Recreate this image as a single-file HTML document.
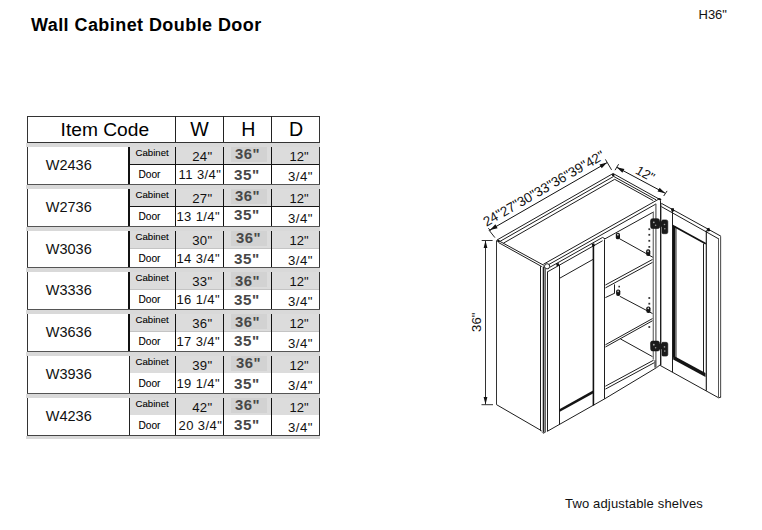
<!DOCTYPE html>
<html><head><meta charset="utf-8"><style>
html,body{margin:0;padding:0;background:#fff;}
body{width:762px;height:530px;position:relative;overflow:hidden;font-family:"Liberation Sans", sans-serif;}
.t{position:absolute;line-height:1;white-space:nowrap;}
.r{position:absolute;}
svg{position:absolute;left:0;top:0;}
</style></head><body>
<div class="t" style="left:31.00px;top:15.76px;font-size:18px;font-weight:700;color:#000;letter-spacing:0.43px">Wall Cabinet Double Door</div><div class="t" style="left:698.50px;top:7.80px;font-size:13px;font-weight:400;color:#111;">H36&quot;</div><div class="t" style="left:565.00px;top:496.70px;font-size:13px;font-weight:400;color:#111;letter-spacing:0.16px">Two adjustable shelves</div><div class="r" style="left:27px;top:116px;width:293px;height:1px;background:#333"></div><div class="r" style="left:27px;top:116px;width:1px;height:27px;background:#333"></div><div class="r" style="left:319px;top:116px;width:1px;height:27px;background:#333"></div><div class="r" style="left:175px;top:116px;width:1px;height:27px;background:#222"></div><div class="r" style="left:223px;top:116px;width:1px;height:27px;background:#222"></div><div class="r" style="left:271px;top:116px;width:1px;height:27px;background:#222"></div><div class="t" style="left:60.60px;top:119.55px;font-size:19.2px;font-weight:400;color:#000;">Item Code</div><div class="t" style="left:190.20px;top:119.91px;font-size:19.6px;font-weight:400;color:#000;">W</div><div class="t" style="left:241.20px;top:119.91px;font-size:19.6px;font-weight:400;color:#000;">H</div><div class="t" style="left:289.00px;top:119.91px;font-size:19.6px;font-weight:400;color:#000;">D</div><div class="r" style="left:27px;top:142px;width:293px;height:1px;background:#333"></div><div class="r" style="left:26px;top:143px;width:294px;height:4px;background:#d9d9d9"></div><div class="r" style="left:130px;top:147px;width:190px;height:17px;background:#dcdcdc"></div><div class="r" style="left:231px;top:147px;width:36px;height:15px;background:#d2d2d2"></div><div class="r" style="left:129px;top:164px;width:191px;height:1px;background:#151515"></div><div class="r" style="left:27px;top:147px;width:1px;height:37px;background:#333"></div><div class="r" style="left:128px;top:147px;width:2px;height:37px;background:#111"></div><div class="r" style="left:175px;top:147px;width:1px;height:37px;background:#111"></div><div class="r" style="left:223px;top:147px;width:1px;height:37px;background:#111"></div><div class="r" style="left:271px;top:147px;width:1px;height:37px;background:#111"></div><div class="r" style="left:319px;top:147px;width:1px;height:37px;background:#333"></div><div class="t" style="left:45.80px;top:157.63px;font-size:14.5px;font-weight:400;color:#111;">W2436</div><div class="t" style="left:135.60px;top:147.77px;font-size:9.6px;font-weight:400;color:#000;-webkit-text-stroke:0.08px #000">Cabinet</div><div class="t" style="left:138.40px;top:170.27px;font-size:10.2px;font-weight:400;color:#000;-webkit-text-stroke:0.08px #000">Door</div><div class="t" style="left:192.20px;top:149.83px;font-size:13.2px;font-weight:400;color:#111;letter-spacing:0.3px">24&quot;</div><div class="t" style="left:178.60px;top:167.80px;font-size:13px;font-weight:400;color:#111;letter-spacing:0.4px">11 3/4&quot;</div><div class="t" style="left:235.00px;top:147.31px;font-size:14.4px;font-weight:700;color:#484848;letter-spacing:0.5px;transform:scaleX(1.03);transform-origin:0 0">36&quot;</div><div class="t" style="left:234.30px;top:167.57px;font-size:14.8px;font-weight:700;color:#484848;letter-spacing:0.5px;transform:scaleX(1.03);transform-origin:0 0">35&quot;</div><div class="t" style="left:289.60px;top:149.80px;font-size:13px;font-weight:400;color:#111;">12&quot;</div><div class="t" style="left:287.90px;top:169.53px;font-size:13.2px;font-weight:400;color:#111;letter-spacing:0.5px">3/4&quot;</div><div class="r" style="left:27px;top:184px;width:293px;height:1px;background:#555"></div><div class="r" style="left:26px;top:185px;width:294px;height:4px;background:#d9d9d9"></div><div class="r" style="left:130px;top:189px;width:190px;height:17px;background:#dcdcdc"></div><div class="r" style="left:231px;top:189px;width:36px;height:15px;background:#d2d2d2"></div><div class="r" style="left:129px;top:206px;width:191px;height:1px;background:#151515"></div><div class="r" style="left:27px;top:189px;width:1px;height:37px;background:#333"></div><div class="r" style="left:128px;top:189px;width:2px;height:37px;background:#111"></div><div class="r" style="left:175px;top:189px;width:1px;height:37px;background:#111"></div><div class="r" style="left:223px;top:189px;width:1px;height:37px;background:#111"></div><div class="r" style="left:271px;top:189px;width:1px;height:37px;background:#111"></div><div class="r" style="left:319px;top:189px;width:1px;height:37px;background:#333"></div><div class="t" style="left:45.80px;top:199.63px;font-size:14.5px;font-weight:400;color:#111;">W2736</div><div class="t" style="left:135.60px;top:189.77px;font-size:9.6px;font-weight:400;color:#000;-webkit-text-stroke:0.08px #000">Cabinet</div><div class="t" style="left:138.40px;top:212.27px;font-size:10.2px;font-weight:400;color:#000;-webkit-text-stroke:0.08px #000">Door</div><div class="t" style="left:192.20px;top:191.83px;font-size:13.2px;font-weight:400;color:#111;letter-spacing:0.3px">27&quot;</div><div class="t" style="left:176.40px;top:209.80px;font-size:13px;font-weight:400;color:#111;letter-spacing:0.4px">13 1/4&quot;</div><div class="t" style="left:235.00px;top:188.81px;font-size:14.4px;font-weight:700;color:#484848;letter-spacing:0.5px;transform:scaleX(1.03);transform-origin:0 0">36&quot;</div><div class="t" style="left:234.30px;top:207.67px;font-size:14.8px;font-weight:700;color:#484848;letter-spacing:0.5px;transform:scaleX(1.03);transform-origin:0 0">35&quot;</div><div class="t" style="left:289.60px;top:191.80px;font-size:13px;font-weight:400;color:#111;">12&quot;</div><div class="t" style="left:287.90px;top:211.53px;font-size:13.2px;font-weight:400;color:#111;letter-spacing:0.5px">3/4&quot;</div><div class="r" style="left:27px;top:226px;width:293px;height:1px;background:#555"></div><div class="r" style="left:26px;top:227px;width:294px;height:4px;background:#d9d9d9"></div><div class="r" style="left:130px;top:231px;width:190px;height:17px;background:#dcdcdc"></div><div class="r" style="left:231px;top:231px;width:36px;height:15px;background:#d2d2d2"></div><div class="r" style="left:130px;top:248px;width:190px;height:1px;background:#c4c4c4"></div><div class="r" style="left:27px;top:231px;width:1px;height:36px;background:#333"></div><div class="r" style="left:128px;top:231px;width:2px;height:36px;background:#111"></div><div class="r" style="left:175px;top:231px;width:1px;height:36px;background:#111"></div><div class="r" style="left:223px;top:231px;width:1px;height:36px;background:#111"></div><div class="r" style="left:271px;top:231px;width:1px;height:36px;background:#111"></div><div class="r" style="left:319px;top:231px;width:1px;height:36px;background:#333"></div><div class="t" style="left:45.80px;top:241.63px;font-size:14.5px;font-weight:400;color:#111;">W3036</div><div class="t" style="left:135.60px;top:231.77px;font-size:9.6px;font-weight:400;color:#000;-webkit-text-stroke:0.08px #000">Cabinet</div><div class="t" style="left:138.40px;top:254.27px;font-size:10.2px;font-weight:400;color:#000;-webkit-text-stroke:0.08px #000">Door</div><div class="t" style="left:192.20px;top:233.83px;font-size:13.2px;font-weight:400;color:#111;letter-spacing:0.3px">30&quot;</div><div class="t" style="left:176.40px;top:251.80px;font-size:13px;font-weight:400;color:#111;letter-spacing:0.4px">14 3/4&quot;</div><div class="t" style="left:236.10px;top:230.81px;font-size:14.4px;font-weight:700;color:#484848;letter-spacing:0.5px;transform:scaleX(1.03);transform-origin:0 0">36&quot;</div><div class="t" style="left:234.30px;top:251.87px;font-size:14.8px;font-weight:700;color:#484848;letter-spacing:0.5px;transform:scaleX(1.03);transform-origin:0 0">35&quot;</div><div class="t" style="left:289.60px;top:233.80px;font-size:13px;font-weight:400;color:#111;">12&quot;</div><div class="t" style="left:287.90px;top:253.53px;font-size:13.2px;font-weight:400;color:#111;letter-spacing:0.5px">3/4&quot;</div><div class="r" style="left:27px;top:267px;width:293px;height:1px;background:#555"></div><div class="r" style="left:26px;top:268px;width:294px;height:4px;background:#d9d9d9"></div><div class="r" style="left:130px;top:272px;width:190px;height:17px;background:#dcdcdc"></div><div class="r" style="left:231px;top:272px;width:36px;height:15px;background:#d2d2d2"></div><div class="r" style="left:130px;top:289px;width:190px;height:1px;background:#c4c4c4"></div><div class="r" style="left:27px;top:272px;width:1px;height:37px;background:#333"></div><div class="r" style="left:128px;top:272px;width:2px;height:37px;background:#111"></div><div class="r" style="left:175px;top:272px;width:1px;height:37px;background:#111"></div><div class="r" style="left:223px;top:272px;width:1px;height:37px;background:#111"></div><div class="r" style="left:271px;top:272px;width:1px;height:37px;background:#111"></div><div class="r" style="left:319px;top:272px;width:1px;height:37px;background:#333"></div><div class="t" style="left:45.80px;top:282.63px;font-size:14.5px;font-weight:400;color:#111;">W3336</div><div class="t" style="left:135.60px;top:272.77px;font-size:9.6px;font-weight:400;color:#000;-webkit-text-stroke:0.08px #000">Cabinet</div><div class="t" style="left:138.40px;top:295.27px;font-size:10.2px;font-weight:400;color:#000;-webkit-text-stroke:0.08px #000">Door</div><div class="t" style="left:192.20px;top:274.83px;font-size:13.2px;font-weight:400;color:#111;letter-spacing:0.3px">33&quot;</div><div class="t" style="left:176.40px;top:292.80px;font-size:13px;font-weight:400;color:#111;letter-spacing:0.4px">16 1/4&quot;</div><div class="t" style="left:235.00px;top:273.61px;font-size:14.4px;font-weight:700;color:#484848;letter-spacing:0.5px;transform:scaleX(1.03);transform-origin:0 0">36&quot;</div><div class="t" style="left:234.30px;top:292.87px;font-size:14.8px;font-weight:700;color:#484848;letter-spacing:0.5px;transform:scaleX(1.03);transform-origin:0 0">35&quot;</div><div class="t" style="left:289.60px;top:274.80px;font-size:13px;font-weight:400;color:#111;">12&quot;</div><div class="t" style="left:287.90px;top:294.53px;font-size:13.2px;font-weight:400;color:#111;letter-spacing:0.5px">3/4&quot;</div><div class="r" style="left:27px;top:309px;width:293px;height:1px;background:#555"></div><div class="r" style="left:26px;top:310px;width:294px;height:4px;background:#d9d9d9"></div><div class="r" style="left:130px;top:314px;width:190px;height:17px;background:#dcdcdc"></div><div class="r" style="left:231px;top:314px;width:36px;height:15px;background:#d2d2d2"></div><div class="r" style="left:130px;top:331px;width:190px;height:1px;background:#c4c4c4"></div><div class="r" style="left:27px;top:314px;width:1px;height:37px;background:#333"></div><div class="r" style="left:128px;top:314px;width:2px;height:37px;background:#111"></div><div class="r" style="left:175px;top:314px;width:1px;height:37px;background:#111"></div><div class="r" style="left:223px;top:314px;width:1px;height:37px;background:#111"></div><div class="r" style="left:271px;top:314px;width:1px;height:37px;background:#111"></div><div class="r" style="left:319px;top:314px;width:1px;height:37px;background:#333"></div><div class="t" style="left:45.80px;top:324.63px;font-size:14.5px;font-weight:400;color:#111;">W3636</div><div class="t" style="left:135.60px;top:314.77px;font-size:9.6px;font-weight:400;color:#000;-webkit-text-stroke:0.08px #000">Cabinet</div><div class="t" style="left:138.40px;top:337.27px;font-size:10.2px;font-weight:400;color:#000;-webkit-text-stroke:0.08px #000">Door</div><div class="t" style="left:192.20px;top:316.83px;font-size:13.2px;font-weight:400;color:#111;letter-spacing:0.3px">36&quot;</div><div class="t" style="left:176.40px;top:334.80px;font-size:13px;font-weight:400;color:#111;letter-spacing:0.4px">17 3/4&quot;</div><div class="t" style="left:235.00px;top:314.51px;font-size:14.4px;font-weight:700;color:#484848;letter-spacing:0.5px;transform:scaleX(1.03);transform-origin:0 0">36&quot;</div><div class="t" style="left:234.30px;top:334.17px;font-size:14.8px;font-weight:700;color:#484848;letter-spacing:0.5px;transform:scaleX(1.03);transform-origin:0 0">35&quot;</div><div class="t" style="left:289.60px;top:316.80px;font-size:13px;font-weight:400;color:#111;">12&quot;</div><div class="t" style="left:287.90px;top:336.53px;font-size:13.2px;font-weight:400;color:#111;letter-spacing:0.5px">3/4&quot;</div><div class="r" style="left:27px;top:351px;width:293px;height:1px;background:#555"></div><div class="r" style="left:26px;top:352px;width:294px;height:4px;background:#d9d9d9"></div><div class="r" style="left:130px;top:356px;width:190px;height:17px;background:#dcdcdc"></div><div class="r" style="left:231px;top:356px;width:36px;height:15px;background:#d2d2d2"></div><div class="r" style="left:27px;top:356px;width:1px;height:37px;background:#333"></div><div class="r" style="left:129px;top:356px;width:1px;height:37px;background:#222"></div><div class="r" style="left:175px;top:356px;width:1px;height:37px;background:#111"></div><div class="r" style="left:223px;top:356px;width:1px;height:37px;background:#111"></div><div class="r" style="left:271px;top:356px;width:1px;height:37px;background:#111"></div><div class="r" style="left:319px;top:356px;width:1px;height:37px;background:#333"></div><div class="t" style="left:45.80px;top:366.63px;font-size:14.5px;font-weight:400;color:#111;">W3936</div><div class="t" style="left:135.60px;top:356.77px;font-size:9.6px;font-weight:400;color:#000;-webkit-text-stroke:0.08px #000">Cabinet</div><div class="t" style="left:138.40px;top:379.27px;font-size:10.2px;font-weight:400;color:#000;-webkit-text-stroke:0.08px #000">Door</div><div class="t" style="left:192.20px;top:358.83px;font-size:13.2px;font-weight:400;color:#111;letter-spacing:0.3px">39&quot;</div><div class="t" style="left:176.40px;top:376.80px;font-size:13px;font-weight:400;color:#111;letter-spacing:0.4px">19 1/4&quot;</div><div class="t" style="left:236.10px;top:355.81px;font-size:14.4px;font-weight:700;color:#484848;letter-spacing:0.5px;transform:scaleX(1.03);transform-origin:0 0">36&quot;</div><div class="t" style="left:234.30px;top:376.87px;font-size:14.8px;font-weight:700;color:#484848;letter-spacing:0.5px;transform:scaleX(1.03);transform-origin:0 0">35&quot;</div><div class="t" style="left:289.60px;top:358.80px;font-size:13px;font-weight:400;color:#111;">12&quot;</div><div class="t" style="left:287.90px;top:378.53px;font-size:13.2px;font-weight:400;color:#111;letter-spacing:0.5px">3/4&quot;</div><div class="r" style="left:27px;top:393px;width:293px;height:1px;background:#555"></div><div class="r" style="left:26px;top:394px;width:294px;height:4px;background:#d9d9d9"></div><div class="r" style="left:130px;top:398px;width:190px;height:17px;background:#dcdcdc"></div><div class="r" style="left:231px;top:398px;width:36px;height:15px;background:#d2d2d2"></div><div class="r" style="left:27px;top:398px;width:1px;height:37px;background:#333"></div><div class="r" style="left:129px;top:398px;width:1px;height:37px;background:#222"></div><div class="r" style="left:175px;top:398px;width:1px;height:37px;background:#111"></div><div class="r" style="left:223px;top:398px;width:1px;height:37px;background:#111"></div><div class="r" style="left:271px;top:398px;width:1px;height:37px;background:#111"></div><div class="r" style="left:319px;top:398px;width:1px;height:37px;background:#333"></div><div class="t" style="left:45.80px;top:408.63px;font-size:14.5px;font-weight:400;color:#111;">W4236</div><div class="t" style="left:135.60px;top:398.77px;font-size:9.6px;font-weight:400;color:#000;-webkit-text-stroke:0.08px #000">Cabinet</div><div class="t" style="left:138.40px;top:421.27px;font-size:10.2px;font-weight:400;color:#000;-webkit-text-stroke:0.08px #000">Door</div><div class="t" style="left:192.20px;top:400.83px;font-size:13.2px;font-weight:400;color:#111;letter-spacing:0.3px">42&quot;</div><div class="t" style="left:178.60px;top:418.80px;font-size:13px;font-weight:400;color:#111;letter-spacing:0.4px">20 3/4&quot;</div><div class="t" style="left:235.00px;top:397.81px;font-size:14.4px;font-weight:700;color:#484848;letter-spacing:0.5px;transform:scaleX(1.03);transform-origin:0 0">36&quot;</div><div class="t" style="left:234.30px;top:418.17px;font-size:14.8px;font-weight:700;color:#484848;letter-spacing:0.5px;transform:scaleX(1.03);transform-origin:0 0">35&quot;</div><div class="t" style="left:289.60px;top:400.80px;font-size:13px;font-weight:400;color:#111;">12&quot;</div><div class="t" style="left:287.90px;top:420.53px;font-size:13.2px;font-weight:400;color:#111;letter-spacing:0.5px">3/4&quot;</div><div class="r" style="left:27px;top:435px;width:293px;height:1px;background:#444"></div><div class="r" style="left:26px;top:436px;width:294px;height:3px;background:#d9d9d9"></div>
<svg width="762" height="530" viewBox="0 0 762 530"><line x1="490.00" y1="230.00" x2="607.10" y2="162.60" stroke="#111" stroke-width="1.0"/><polygon points="490.00,230.00 495.40,224.35 497.60,228.17" fill="#111"/><polygon points="607.10,162.60 601.70,168.25 599.50,164.43" fill="#111"/><line x1="488.90" y1="230.00" x2="494.90" y2="237.60" stroke="#222" stroke-width="1.0"/><line x1="488.40" y1="228.20" x2="490.60" y2="231.00" stroke="#222" stroke-width="1.0"/><line x1="605.40" y1="159.40" x2="611.60" y2="169.90" stroke="#222" stroke-width="1.0"/><text x="0" y="0" transform="translate(486.4,226.8) rotate(-29.92)" font-family="Liberation Sans" font-size="13.5" fill="#111" letter-spacing="-0.05">24"27"30"33"36"39"42"</text><line x1="616.80" y1="167.30" x2="665.20" y2="193.20" stroke="#111" stroke-width="1.0"/><polygon points="616.80,167.30 624.45,168.90 622.37,172.78" fill="#111"/><polygon points="665.20,193.20 657.55,191.60 659.63,187.72" fill="#111"/><line x1="615.00" y1="170.20" x2="618.60" y2="164.20" stroke="#222" stroke-width="1.0"/><line x1="663.70" y1="196.00" x2="667.10" y2="190.90" stroke="#222" stroke-width="1.0"/><text x="0" y="0" transform="translate(634.6,173.1) rotate(28.15) skewX(-3)" font-family="Liberation Sans" font-size="13" fill="#111">12"</text><line x1="485.50" y1="241.00" x2="485.50" y2="404.50" stroke="#333" stroke-width="1.0"/><line x1="481.70" y1="240.50" x2="492.60" y2="240.50" stroke="#333" stroke-width="1.0"/><line x1="481.50" y1="404.70" x2="493.00" y2="404.70" stroke="#333" stroke-width="1.0"/><polygon points="485.50,240.60 487.40,248.10 483.60,248.10" fill="#111"/><polygon points="485.50,404.60 483.60,397.10 487.40,397.10" fill="#111"/><text x="0" y="0" transform="translate(480.7,331.9) rotate(-90)" font-family="Liberation Sans" font-size="13.2" fill="#111">36"</text><line x1="496.50" y1="240.30" x2="496.50" y2="404.70" stroke="#333" stroke-width="1.0"/><line x1="496.60" y1="404.70" x2="541.60" y2="430.80" stroke="#1e1e1e" stroke-width="1.0"/><line x1="497.20" y1="239.90" x2="543.80" y2="265.30" stroke="#1e1e1e" stroke-width="1.0"/><line x1="498.60" y1="242.60" x2="541.80" y2="266.60" stroke="#1e1e1e" stroke-width="1.0"/><polyline points="497.20,239.90 613.10,173.50 659.00,199.00" fill="none" stroke="#1e1e1e" stroke-width="1.0"/><polyline points="499.60,241.60 613.70,176.40 656.00,199.80" fill="none" stroke="#1e1e1e" stroke-width="1.0"/><polyline points="503.40,243.20 614.70,179.30 653.20,200.60" fill="none" stroke="#1e1e1e" stroke-width="1.0"/><circle cx="613.2" cy="175.0" r="1.3" fill="#111"/><circle cx="498.4" cy="241.0" r="1.2" fill="#111"/><path d="M657.2,198.6 q2.2,-1.2 4.2,0.6 l-0.6,1.8 z" fill="#111"/><line x1="543.40" y1="264.28" x2="659.00" y2="198.97" stroke="#1e1e1e" stroke-width="1.0"/><line x1="549.00" y1="264.42" x2="656.00" y2="203.96" stroke="#1e1e1e" stroke-width="1.0"/><line x1="549.90" y1="267.21" x2="602.60" y2="237.43" stroke="#1e1e1e" stroke-width="1.0"/><line x1="547.20" y1="272.03" x2="602.60" y2="240.73" stroke="#1e1e1e" stroke-width="1.0"/><line x1="602.60" y1="237.43" x2="605.00" y2="238.83" stroke="#1e1e1e" stroke-width="1.0"/><line x1="605.00" y1="238.83" x2="653.60" y2="211.92" stroke="#1e1e1e" stroke-width="1.0"/><circle cx="547.1" cy="266.3" r="2.6" fill="none" stroke="#1e1e1e" stroke-width="1"/><polygon points="556.00,263.40 558.60,262.90 559.40,265.60 556.80,266.20" fill="#111"/><polygon points="591.60,243.80 594.20,243.30 595.00,246.00 592.40,246.60" fill="#111"/><line x1="540.50" y1="266.10" x2="540.50" y2="431.00" stroke="#1e1e1e" stroke-width="1.0"/><line x1="543.60" y1="266.50" x2="543.60" y2="432.50" stroke="#222" stroke-width="1.8"/><line x1="545.50" y1="268.00" x2="545.50" y2="432.20" stroke="#555" stroke-width="0.9"/><line x1="547.50" y1="271.80" x2="547.50" y2="431.30" stroke="#1e1e1e" stroke-width="1.0"/><polygon points="540.00,430.60 543.00,432.80 546.50,431.50 543.50,433.80" fill="#222"/><line x1="547.30" y1="431.30" x2="604.90" y2="398.70" stroke="#1e1e1e" stroke-width="1.0"/><line x1="559.50" y1="265.00" x2="559.50" y2="424.60" stroke="#1e1e1e" stroke-width="1.0"/><line x1="593.40" y1="245.30" x2="593.40" y2="405.50" stroke="#111" stroke-width="1.6"/><line x1="604.50" y1="239.40" x2="604.50" y2="398.90" stroke="#1e1e1e" stroke-width="1.0"/><line x1="559.40" y1="278.40" x2="593.40" y2="259.20" stroke="#1e1e1e" stroke-width="1.0"/><polygon points="559.40,409.20 593.90,390.00 593.90,392.90 559.40,412.10" fill="#151515"/><line x1="605.40" y1="285.00" x2="652.60" y2="259.40" stroke="#1e1e1e" stroke-width="1.0"/><line x1="605.40" y1="287.90" x2="652.60" y2="262.30" stroke="#1e1e1e" stroke-width="1.0"/><line x1="614.50" y1="284.40" x2="614.50" y2="293.40" stroke="#1e1e1e" stroke-width="1.0"/><line x1="605.40" y1="297.60" x2="614.70" y2="293.20" stroke="#1e1e1e" stroke-width="1.0"/><line x1="605.40" y1="344.80" x2="652.60" y2="318.50" stroke="#1e1e1e" stroke-width="1.0"/><line x1="605.40" y1="347.00" x2="652.60" y2="320.70" stroke="#1e1e1e" stroke-width="1.0"/><line x1="605.40" y1="386.20" x2="653.60" y2="360.20" stroke="#1e1e1e" stroke-width="1.0"/><line x1="605.40" y1="389.10" x2="654.60" y2="362.50" stroke="#1e1e1e" stroke-width="1.0"/><line x1="604.90" y1="398.70" x2="656.60" y2="367.60" stroke="#1e1e1e" stroke-width="1.0"/><line x1="656.60" y1="367.60" x2="660.20" y2="364.80" stroke="#1e1e1e" stroke-width="1.0"/><line x1="655.20" y1="360.20" x2="655.20" y2="367.60" stroke="#555" stroke-width="1.8"/><line x1="619.30" y1="238.60" x2="653.30" y2="257.50" stroke="#1e1e1e" stroke-width="1.0"/><line x1="619.80" y1="296.30" x2="652.60" y2="313.60" stroke="#1e1e1e" stroke-width="1.0"/><line x1="620.40" y1="338.90" x2="652.60" y2="356.70" stroke="#1e1e1e" stroke-width="1.0"/><rect x="615.80" y="232.70" width="4.2" height="6.6" rx="1.9" fill="#151515"/><rect x="617.00" y="233.80" width="1.6" height="1.8" rx="0.7" fill="#fff" opacity="0.8"/><rect x="646.10" y="249.30" width="4.2" height="6.6" rx="1.9" fill="#151515"/><rect x="647.30" y="250.40" width="1.6" height="1.8" rx="0.7" fill="#fff" opacity="0.8"/><rect x="616.10" y="289.40" width="4.2" height="6.6" rx="1.9" fill="#151515"/><rect x="617.30" y="290.50" width="1.6" height="1.8" rx="0.7" fill="#fff" opacity="0.8"/><rect x="646.30" y="306.40" width="4.2" height="6.6" rx="1.9" fill="#151515"/><rect x="647.50" y="307.50" width="1.6" height="1.8" rx="0.7" fill="#fff" opacity="0.8"/><rect x="648.40" y="228.30" width="1.8" height="1.8" fill="#333"/><rect x="648.40" y="233.90" width="1.8" height="1.8" fill="#333"/><rect x="648.40" y="239.90" width="1.8" height="1.8" fill="#333"/><rect x="648.40" y="246.00" width="1.8" height="1.8" fill="#333"/><rect x="648.40" y="297.10" width="1.8" height="1.8" fill="#333"/><rect x="648.40" y="302.80" width="1.8" height="1.8" fill="#333"/><rect x="648.40" y="326.10" width="1.8" height="1.8" fill="#333"/><rect x="618.4" y="285.8" width="1.6" height="1.6" fill="#333"/><line x1="653.30" y1="212.00" x2="653.30" y2="359.50" stroke="#777" stroke-width="1.3"/><line x1="655.90" y1="203.80" x2="655.90" y2="367.60" stroke="#666" stroke-width="1.3"/><line x1="660.50" y1="200.80" x2="660.50" y2="365.00" stroke="#1e1e1e" stroke-width="1.0"/><path d="M650.5,220.70000000000002 q0,-2 2,-2 h5.2 q1.6,0 1.8,1.6 l0.2,1.2 h2.2 v-0.6 q0,-1 1,-1 h3.2 q1.6,0 1.7,1.6 v10.6 q0,1.6 -1.6,1.6 h-3 q-1.2,0 -1.2,-1.2 v-6 h-2.3 v0.2 q0,1.8 -1.8,1.8 h-5.6 q-1.6,0 -1.6,-1.6 z" fill="#1a1a1a" stroke="#111" stroke-width="0.6"/><circle cx="653.8000000000001" cy="222.3" r="0.9" fill="#aaa"/><circle cx="655.6" cy="225.3" r="0.8" fill="#999"/><circle cx="664.5" cy="224.5" r="0.8" fill="#999"/><circle cx="664.8000000000001" cy="228.70000000000002" r="0.8" fill="#999"/><path d="M650.5,343.1 q0,-2 2,-2 h5.2 q1.6,0 1.8,1.6 l0.2,1.2 h2.2 v-0.6 q0,-1 1,-1 h3.2 q1.6,0 1.7,1.6 v10.6 q0,1.6 -1.6,1.6 h-3 q-1.2,0 -1.2,-1.2 v-6 h-2.3 v0.2 q0,1.8 -1.8,1.8 h-5.6 q-1.6,0 -1.6,-1.6 z" fill="#1a1a1a" stroke="#111" stroke-width="0.6"/><circle cx="653.8000000000001" cy="344.7" r="0.9" fill="#aaa"/><circle cx="655.6" cy="347.7" r="0.8" fill="#999"/><circle cx="664.5" cy="346.90000000000003" r="0.8" fill="#999"/><circle cx="664.8000000000001" cy="351.1" r="0.8" fill="#999"/><line x1="661.30" y1="203.30" x2="720.90" y2="236.20" stroke="#1e1e1e" stroke-width="1.0"/><line x1="661.30" y1="206.60" x2="718.70" y2="238.90" stroke="#1e1e1e" stroke-width="1.0"/><line x1="660.90" y1="203.50" x2="660.90" y2="365.40" stroke="#1e1e1e" stroke-width="1.0"/><line x1="672.50" y1="210.10" x2="672.50" y2="372.10" stroke="#1e1e1e" stroke-width="1.0"/><line x1="674.30" y1="226.00" x2="674.30" y2="357.40" stroke="#111" stroke-width="2.6"/><line x1="676.30" y1="227.50" x2="676.30" y2="358.00" stroke="#777" stroke-width="1.0"/><line x1="672.60" y1="225.40" x2="705.80" y2="243.80" stroke="#111" stroke-width="1.7"/><line x1="703.50" y1="243.60" x2="703.50" y2="375.00" stroke="#1e1e1e" stroke-width="1.0"/><line x1="706.30" y1="230.20" x2="706.30" y2="390.80" stroke="#111" stroke-width="1.1"/><line x1="718.50" y1="238.10" x2="718.50" y2="397.00" stroke="#555" stroke-width="1.0"/><line x1="720.60" y1="236.20" x2="720.60" y2="397.40" stroke="#555" stroke-width="1.1"/><line x1="660.10" y1="365.40" x2="718.80" y2="397.90" stroke="#1e1e1e" stroke-width="1.0"/><line x1="718.80" y1="397.90" x2="721.00" y2="396.80" stroke="#1e1e1e" stroke-width="1.0"/><polygon points="673.20,355.60 705.50,373.00 705.50,376.90 673.20,359.40" fill="#151515"/><polygon points="670.80,208.60 673.60,208.00 674.40,211.20 671.60,211.80" fill="#111"/><polygon points="706.60,228.40 709.40,227.80 710.20,231.00 707.40,231.60" fill="#111"/></svg>
</body></html>
